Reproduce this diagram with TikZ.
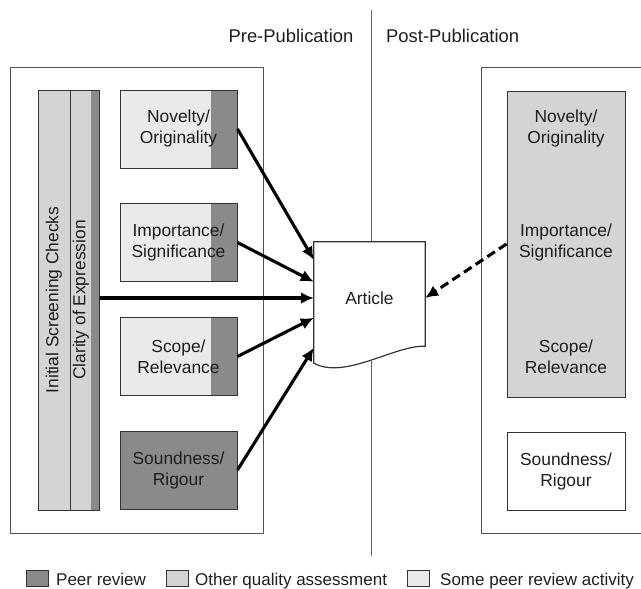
\documentclass[tikz,border=0pt]{standalone}
\usepackage{fontspec}
\setmainfont{Liberation Sans}
\usepackage{tikz}
\usetikzlibrary{calc}
\usetikzlibrary{arrows.meta}

\definecolor{peergrey}{HTML}{8A8A8C}
\definecolor{othergrey}{HTML}{D4D4D6}
\definecolor{somegrey}{HTML}{EAEAEA}
\definecolor{boxline}{HTML}{333333}
\definecolor{textgrey}{HTML}{1E1E1E}

\tikzset{
  lbl/.style={font=\fontsize{17.4}{21}\selectfont, text=textgrey, align=center, inner sep=0pt},
  title/.style={lbl, font=\fontsize{18.4}{22}\selectfont},
  keytext/.style={lbl, font=\fontsize{17}{20}\selectfont, anchor=base west},
  outerbox/.style={draw=boxline!85, line width=0.8pt},
  box/.style={lbl, draw=boxline, line width=1pt, minimum width=117pt, minimum height=78pt},
  partbox/.style={box, fill=somegrey,
    path picture={\fill[peergrey] ([xshift=-26pt]path picture bounding box.north east) rectangle (path picture bounding box.south east);}},
  bar/.style={draw=boxline, line width=1pt, fill=othergrey, minimum height=420pt, inner sep=0pt},
  keybox/.style={draw=boxline, line width=0.8pt, minimum width=22pt, minimum height=16pt, inner sep=0pt},
  divider/.style={draw=black!60, line width=0.8pt},
  feed/.style={line width=3.1pt, -{Latex[length=13pt,width=12pt]}},
}

\begin{document}
\begin{tikzpicture}[x=1pt, y=-1pt]
  \useasboundingbox (0,0) rectangle (641,589);

  \node[title] (pretitle) at (291,36) {Pre-Publication};
  \node[title, anchor=west] (posttitle) at (386,36) {Post-Publication};

  \node[outerbox, minimum width=253pt, minimum height=466pt] (pre) at (136.5,300) {};
  \draw[outerbox] (641,67) -- (481,67) -- (481,533) -- (641,533);

  \node[bar, minimum width=32pt] (isc) at (54,300) {};
  \node[bar, minimum width=29pt,
    path picture={\fill[peergrey] ([xshift=-8pt]path picture bounding box.north east) rectangle (path picture bounding box.south east);}] (coe) at (84.5,300) {};
  \node[lbl, rotate=90] (isctext) at (isc) {Initial Screening Checks};
  \node[lbl, rotate=90] (coetext) at (81,300) {Clarity of Expression};

  \node[partbox] (nov) at (178.5,129) {Novelty/\\Originality};
  \node[partbox] (imp) at (178.5,242.5) {Importance/\\Significance};
  \node[partbox] (sco) at (178.5,356.5) {Scope/\\Relevance};
  \node[box, fill=peergrey] (sou) at (178.5,470) {Soundness/\\Rigour};

  \node[box, fill=othergrey, minimum width=118pt, minimum height=306pt] (rgt) at (566,244) {};
  \node[lbl] (rnov) at (566,129) {Novelty/\\Originality};
  \node[lbl] (rimp) at (566,243) {Importance/\\Significance};
  \node[lbl] (rsco) at (566,357) {Scope/\\Relevance};
  \node[box, fill=white, minimum width=118pt] (rsou) at (566,471) {Soundness/\\Rigour};

  \node[lbl, minimum width=111pt, minimum height=112pt] (art) at (369.5,298) {};
  \coordinate (divtop) at (371,10);
  \coordinate (wave) at (371,360.5);
  \coordinate (divbot) at (371,556);
  \draw[divider] (divtop) -- (divtop |- art.north);
  \draw[divider] (wave) -- (divbot);
  \draw[boxline, line width=1.2pt, fill=white] ($(art.south west)+(0,9)$) -- (art.north west) -- (art.north east)
    -- ($(art.south east)+(0,-8)$) .. controls (395,345) and (345,380) .. ($(art.south west)+(0,9)$) -- cycle;
  \node[lbl] (arttext) at (art) {Article};

  \draw[feed] (nov.east) -- ($(art.north west)+(0,18)$);
  \draw[feed] (imp.east) -- ($(art.north west)+(0,40)$);
  \draw[feed] (coe.east |- art.west) -- (art.west);
  \draw[feed] (sco.east) -- ($(art.north west)+(0,76)$);
  \draw[feed] (sou.east) -- ($(art.north west)+(0,106)$);
  \draw[feed, dash pattern=on 9pt off 5pt] (rgt.west) -- (art.east);

  \node[keybox, fill=peergrey] (kpeer) at (37,578) {};
  \node[keytext] (tpeer) at (56,585) {Peer review};
  \node[keybox, fill=othergrey] (kother) at (177,578) {};
  \node[keytext] (tother) at (195,585) {Other quality assessment};
  \node[keybox, fill=somegrey] (ksome) at (418,578) {};
  \node[keytext] (tsome) at (440,585) {Some peer review activity};
\end{tikzpicture}
\end{document}
